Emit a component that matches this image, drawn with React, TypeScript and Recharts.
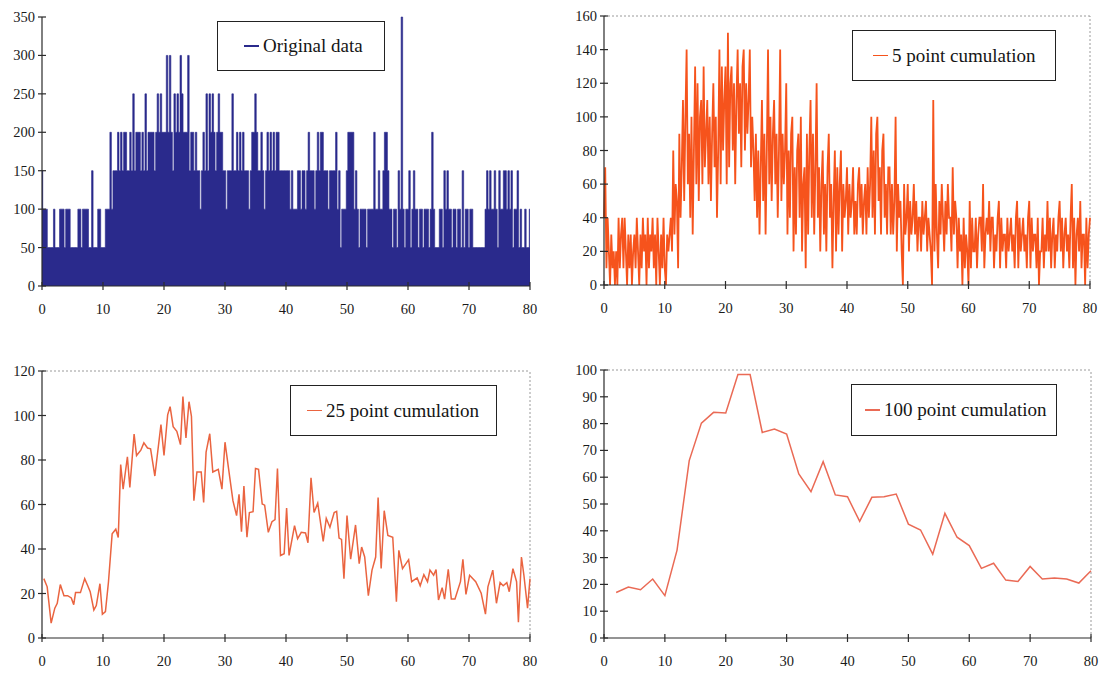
import React from 'react';
import { ComposedChart, Line, Area, XAxis, YAxis, ReferenceLine, Legend } from 'recharts';

// ---------- tick labels ----------
const xTicks = [0, 10, 20, 30, 40, 50, 60, 70, 80];
const origTicks = [0, 50, 100, 150, 200, 250, 300, 350];
const fiveTicks = [0, 20, 40, 60, 80, 100, 120, 140, 160];
const cum25Ticks = [0, 20, 40, 60, 80, 100, 120];
const cum100Ticks = [0, 10, 20, 30, 40, 50, 60, 70, 80, 90, 100];

// ---------- Original data (4 readings per x unit) ----------
const originalData: number[][] = [
  [150, 100, 100, 100], [50, 50, 50, 50], [100, 50, 50, 50], [100, 100, 100, 50], [100, 100, 100, 50],
  [50, 50, 50, 50], [100, 100, 50, 100], [100, 100, 100, 50], [50, 150, 50, 50], [50, 100, 100, 50],
  [50, 50, 100, 100], [100, 200, 100, 150], [150, 150, 200, 150], [200, 150, 200, 200], [150, 150, 200, 150],
  [250, 150, 200, 200], [200, 150, 200, 150], [250, 150, 200, 200], [200, 200, 150, 200], [250, 200, 250, 200],
  [200, 200, 300, 200], [300, 200, 150, 250], [200, 250, 200, 300], [250, 200, 200, 200], [300, 150, 200, 200],
  [150, 200, 150, 150], [100, 150, 200, 150], [250, 150, 250, 200], [250, 200, 150, 200], [250, 200, 200, 150],
  [150, 100, 150, 150], [150, 250, 150, 150], [200, 150, 200, 150], [200, 150, 150, 150], [100, 150, 200, 200],
  [250, 200, 150, 150], [200, 150, 100, 150], [200, 150, 200, 150], [200, 150, 200, 200], [150, 150, 150, 150],
  [150, 150, 150, 100], [150, 100, 100, 100], [150, 150, 100, 150], [150, 100, 150, 200], [150, 150, 150, 100],
  [150, 200, 150, 200], [200, 150, 150, 150], [100, 150, 150, 150], [150, 200, 100, 150], [50, 100, 100, 100],
  [150, 200, 200, 200], [200, 100, 150, 100], [50, 100, 100, 100], [100, 50, 100, 100], [100, 100, 200, 100],
  [100, 150, 100, 100], [150, 200, 200, 150], [100, 100, 50, 100], [100, 50, 150, 100], [350, 100, 50, 100],
  [100, 150, 50, 100], [150, 100, 100, 50], [100, 100, 50, 100], [100, 100, 50, 100], [200, 100, 50, 50],
  [50, 100, 100, 50], [150, 100, 150, 100], [100, 50, 100, 100], [50, 100, 100, 50], [150, 50, 100, 100],
  [50, 100, 100, 50], [50, 50, 50, 50], [50, 50, 50, 100], [150, 100, 150, 100], [100, 150, 100, 50],
  [150, 100, 100, 150], [150, 100, 150, 100], [150, 50, 100, 100], [150, 50, 100, 50], [50, 100, 50, 50],
];
const originalLast = 100;

// ---------- 5 point cumulation (5 readings per x unit) ----------
const fivePoint: number[][] = [
  [40, 70, 10, 40, 20], [0, 30, 10, 20, 0], [20, 0, 40, 10, 30], [40, 10, 40, 20, 0], [30, 10, 30, 0, 20],
  [30, 10, 40, 20, 0], [30, 10, 40, 20, 30], [0, 40, 10, 30, 20], [40, 10, 30, 0, 40], [20, 0, 30, 10, 40],
  [10, 0, 30, 20, 30], [40, 20, 80, 30, 60], [50, 10, 90, 40, 70], [110, 50, 100, 140, 60], [90, 40, 100, 30, 80],
  [130, 60, 120, 50, 100], [110, 60, 130, 70, 90], [110, 60, 100, 50, 90], [120, 70, 100, 40, 80], [140, 60, 130, 80, 110],
  [130, 60, 150, 70, 120], [130, 80, 120, 60, 110], [140, 90, 120, 70, 130], [140, 80, 120, 90, 110], [140, 70, 100, 80, 50],
  [90, 40, 80, 30, 70], [110, 50, 90, 30, 80], [140, 60, 100, 50, 90], [110, 60, 90, 40, 80], [140, 50, 90, 60, 80],
  [120, 30, 80, 40, 90], [100, 20, 70, 30, 80], [90, 40, 100, 20, 60], [70, 10, 90, 30, 80], [110, 40, 90, 30, 70],
  [120, 40, 70, 20, 60], [80, 30, 60, 20, 70], [90, 40, 60, 10, 50], [80, 20, 70, 30, 60], [80, 20, 60, 40, 50],
  [70, 30, 60, 40, 50], [70, 30, 50, 30, 60], [70, 40, 60, 30, 50], [60, 30, 70, 40, 60], [100, 40, 80, 30, 90],
  [100, 50, 70, 30, 80], [90, 40, 60, 30, 70], [70, 30, 60, 30, 50], [100, 20, 60, 40, 50], [20, 0, 60, 30, 40],
  [60, 20, 50, 30, 40], [60, 30, 50, 20, 40], [40, 20, 50, 30, 40], [50, 20, 40, 30, 20], [0, 110, 20, 60, 30],
  [10, 50, 30, 60, 40], [20, 50, 30, 60, 40], [40, 20, 70, 30, 50], [40, 10, 40, 20, 30], [0, 40, 10, 30, 20],
  [0, 50, 10, 40, 20], [20, 40, 10, 30, 40], [40, 20, 60, 10, 30], [40, 30, 50, 20, 40], [40, 10, 30, 20, 40],
  [50, 10, 40, 20, 30], [30, 10, 40, 20, 30], [40, 20, 30, 10, 40], [50, 10, 40, 20, 30], [40, 20, 30, 10, 40],
  [50, 10, 40, 20, 30], [30, 10, 40, 0, 20], [20, 40, 10, 30, 20], [50, 20, 40, 10, 30], [40, 10, 30, 20, 40],
  [50, 20, 40, 10, 30], [40, 20, 30, 10, 40], [60, 10, 40, 0, 30], [40, 20, 50, 10, 30], [30, 0, 40, 10, 30],
];
const fivePointLast = 40;

// ---------- 25 point cumulation ----------
const cum25X = [
  0.3, 0.85, 1.5, 2.1, 2.5, 3.0, 3.6, 4.2, 4.8, 5.2,
  5.5, 6.3, 7.0, 7.5, 7.9, 8.5, 8.9, 9.5, 9.9, 10.4,
  10.9, 11.5, 12.1, 12.5, 12.9, 13.3, 14.0, 14.4, 15.1, 15.5,
  16.2, 16.7, 17.3, 17.8, 18.5, 19.5, 20.0, 20.6, 21.0, 21.5,
  22.1, 22.7, 23.1, 23.6, 24.1, 24.5, 24.9, 25.4, 26.1, 26.5,
  26.9, 27.5, 28.0, 28.9, 29.5, 30.0, 30.6, 31.3, 31.9, 32.3,
  32.7, 33.1, 33.6, 34.0, 34.6, 35.0, 35.5, 36.1, 36.5, 37.1,
  37.7, 38.2, 38.6, 39.1, 39.7, 40.1, 40.5, 41.4, 41.9, 42.5,
  43.2, 43.6, 44.1, 44.6, 45.2, 46.1, 46.6, 47.2, 47.9, 48.3,
  48.7, 49.1, 49.5, 50.0, 50.6, 51.4, 52.0, 52.4, 52.9, 53.5,
  54.1, 54.7, 55.1, 55.6, 56.1, 56.7, 57.5, 58.1, 58.5, 59.1,
  60.1, 60.6, 61.5, 62.0, 62.6, 63.2, 63.6, 64.2, 64.6, 65.0,
  65.6, 66.0, 66.6, 67.1, 67.7, 68.6, 69.0, 69.5, 70.1, 71.1,
  72.0, 72.7, 73.1, 73.9, 74.5, 75.1, 75.6, 76.2, 76.6, 77.2,
  77.8, 78.1, 78.6, 79.0, 79.6, 80.0,
];
const cum25Y = [
  26.7, 23, 6.7, 13.4, 15.6, 24, 19, 19, 18, 15,
  20.4, 20.4, 26.7, 23.5, 20.8, 12.6, 14.6, 24.4, 10.7, 11.9,
  25.3, 46.8, 48.9, 45.2, 78, 66.9, 81.4, 67.7, 91.7, 82,
  84.4, 87.7, 85.4, 85, 72.8, 95.9, 82, 100.3, 104, 95,
  92.9, 86.9, 108.5, 89.9, 106.2, 99.6, 61.7, 74.6, 74.6, 60.9,
  83.5, 91.8, 74.6, 75.8, 66.9, 88, 75.8, 61.7, 55, 64.6,
  47.8, 68.3, 45.3, 56.4, 56.8, 76.2, 75.8, 60.2, 59.7, 47.5,
  52.3, 53.2, 76.2, 37.1, 37.9, 58.4, 37.1, 50.5, 44.6, 47.5,
  47.2, 42.8, 72, 56.4, 60.6, 43.4, 53.8, 49.8, 56.4, 56.9,
  44.9, 44.3, 26.7, 55, 35.4, 50.8, 33.4, 40.9, 36.4, 19,
  30.5, 36.4, 63.1, 31.2, 57.2, 46.1, 45.3, 16.3, 39.4, 31.2,
  35.2, 25.3, 27, 23.5, 28.5, 25.3, 30.5, 28.2, 30.8, 17.1,
  22.6, 17.5, 30.9, 17.5, 17.5, 25.3, 35.4, 19.6, 28.2, 25.3,
  20.1, 10.7, 23, 30.5, 15.6, 24.9, 23.5, 24.9, 20.8, 31.2,
  25.3, 7.1, 36.4, 28.2, 13.4, 26.7,
];

// ---------- 100 point cumulation ----------
const cum100X = [2, 4, 6, 8, 10, 12, 14, 16, 18, 20, 22, 24, 26, 28, 30, 32, 34, 36, 38, 40,
  42, 44, 46, 48, 50, 52, 54, 56, 58, 60, 62, 64, 66, 68, 70, 72, 74, 76, 78, 80];
const cum100Y = [17, 19, 18, 22, 15.8, 32.8, 66.2, 80.2, 84.2, 84, 98.3, 98.3, 76.7, 78, 76.1, 61.2, 54.6, 65.8, 53.4, 52.7,
  43.5, 52.5, 52.7, 53.7, 42.5, 40.3, 31.3, 46.5, 37.6, 34.5, 26, 27.9, 21.6, 21.1, 26.7, 22, 22.4, 22, 20.5, 25.1];

// ---------- tables ----------
const unitRows = (units: number[][], last: number) => {
  const rows: { x: number; v: number }[] = [];
  units.forEach((arr, u) => arr.forEach((v, j) => rows.push({ x: u + j / arr.length, v })));
  rows.push({ x: units.length, v: last });
  return rows;
};
const zipRows = (xs: number[], ys: number[]) => xs.map((x, i) => ({ x, v: ys[i] }));

const originalRows = unitRows(originalData, originalLast);
const fiveRows = unitRows(fivePoint, fivePointLast);
const cum25Rows = zipRows(cum25X, cum25Y);
const cum100Rows = zipRows(cum100X, cum100Y);

const FONT = "'Liberation Serif', Tinos, 'Times New Roman', 'DejaVu Serif', 'Noto Serif', serif";
const AXIS = '#2a2a2a';

const YTick = (props: any) => {
  const { x, y, payload } = props;
  return (
    <g>
      <line x1={x + 2} x2={x + 10} y1={y} y2={y} stroke={AXIS} strokeWidth={1.2} />
      <text x={x - 1} y={y} textAnchor="end" dominantBaseline="central" style={{ fontFamily: FONT }} fontSize={14.5} fill="#1a1a1a">
        {payload.value}
      </text>
    </g>
  );
};

const XTick = (props: any) => {
  const { x, y, payload } = props;
  return (
    <g>
      <line x1={x} x2={x} y1={y - 20} y2={y - 12} stroke={AXIS} strokeWidth={1.2} />
      <text x={x} y={y + 7} textAnchor="middle" dominantBaseline="central" style={{ fontFamily: FONT }} fontSize={14.5} fill="#1a1a1a">
        {payload.value}
      </text>
    </g>
  );
};

const LegendBox = ({ label, color, padLeft }: { label: string; color: string; padLeft: number }) => (
  <div
    style={{
      width: '100%', height: '100%', boxSizing: 'border-box', border: '1.6px solid #222', background: '#fff',
      display: 'flex', alignItems: 'center', paddingLeft: padLeft, fontFamily: FONT, fontSize: 19, color: '#151515',
      whiteSpace: 'nowrap',
    }}
  >
    <span style={{ display: 'inline-block', width: 15, height: 1.2, background: color, marginRight: 4 }} />
    <span>{label}</span>
  </div>
);

type PanelProps = {
  left: number; top: number; width: number; height: number;
  margin: { top: number; right: number; bottom: number; left: number };
  data: { x: number; v: number }[];
  yTicks: number[];
  kind: 'area' | 'line';
  color: string;
  strokeWidth: number;
  label: string;
  legend: { left: number; top: number; width: number; height: number; padLeft: number };
  frame: boolean;
};

const Panel = (p: PanelProps) => {
  const yMax = p.yTicks[p.yTicks.length - 1];
  return (
    <div style={{ position: 'absolute', left: p.left, top: p.top, fontFamily: FONT }}>
      <ComposedChart width={p.width} height={p.height} data={p.data} margin={p.margin}>
        <XAxis
          type="number" dataKey="x" domain={[0, 80]} ticks={xTicks} interval={0}
          axisLine={{ stroke: AXIS, strokeWidth: 1.2 }} tickLine={false} tickSize={0} tickMargin={16}
          tick={<XTick />} height={30}
        />
        <YAxis
          type="number" domain={[0, yMax]} ticks={p.yTicks} interval={0}
          axisLine={{ stroke: AXIS, strokeWidth: 1.2 }} tickLine={false} tickSize={0} tickMargin={6}
          tick={<YTick />} width={30}
        />
        {p.frame && <ReferenceLine y={yMax} stroke="#9a9a9a" strokeDasharray="2 2" />}
        {p.frame && <ReferenceLine x={80} stroke="#9a9a9a" strokeDasharray="2 2" />}
        {p.kind === 'area' ? (
          <Area type="step" dataKey="v" stroke={p.color} strokeWidth={0.6} fill={p.color} fillOpacity={1}
            isAnimationActive={false} dot={false} activeDot={false} />
        ) : (
          <Line type="linear" dataKey="v" stroke={p.color} strokeWidth={p.strokeWidth} dot={false}
            activeDot={false} isAnimationActive={false} />
        )}
        <Legend
          layout="vertical" align="center" verticalAlign="middle"
          wrapperStyle={{ left: p.legend.left, top: p.legend.top, width: p.legend.width, height: p.legend.height }}
          content={() => <LegendBox label={p.label} color={p.color} padLeft={p.legend.padLeft} />}
        />
      </ComposedChart>
    </div>
  );
};

export default function App() {
  return (
    <div style={{ position: 'absolute', left: 0, top: 0, width: 1101, height: 673, background: '#fff', overflow: 'hidden' }}>
      <Panel
        left={0} top={0} width={540} height={330}
        margin={{ top: 17, right: 10, bottom: 14, left: 12 }}
        data={originalRows} yTicks={origTicks} kind="area" color="#2a2a8c" strokeWidth={1}
        label="Original data" frame={false}
        legend={{ left: 217, top: 21, width: 168, height: 50, padLeft: 26 }}
      />
      <Panel
        left={560} top={0} width={540} height={330}
        margin={{ top: 16, right: 10, bottom: 15, left: 14 }}
        data={fiveRows} yTicks={fiveTicks} kind="line" color="#f6531c" strokeWidth={1.8}
        label="5 point cumulation" frame={true}
        legend={{ left: 292, top: 30, width: 204, height: 51, padLeft: 20 }}
      />
      <Panel
        left={0} top={340} width={540} height={333}
        margin={{ top: 31, right: 10, bottom: 5, left: 12 }}
        data={cum25Rows} yTicks={cum25Ticks} kind="line" color="#ea6440" strokeWidth={1.5}
        label="25 point cumulation" frame={true}
        legend={{ left: 290, top: 45, width: 207, height: 51, padLeft: 16 }}
      />
      <Panel
        left={560} top={340} width={540} height={333}
        margin={{ top: 30, right: 9, bottom: 5, left: 14 }}
        data={cum100Rows} yTicks={cum100Ticks} kind="line" color="#ea6a55" strokeWidth={1.5}
        label="100 point cumulation" frame={true}
        legend={{ left: 291, top: 44, width: 206, height: 52, padLeft: 13 }}
      />
    </div>
  );
}
